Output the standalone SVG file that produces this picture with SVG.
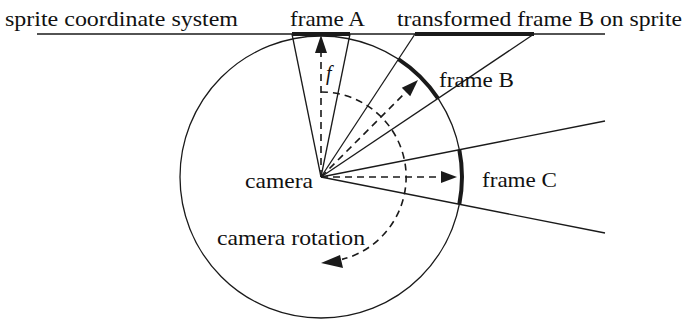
<svg xmlns="http://www.w3.org/2000/svg" width="687" height="320" viewBox="0 0 687 320">
<style>
.thin{fill:none;stroke:#1a1a1a;stroke-width:1.3}
.thick{fill:none;stroke:#1a1a1a;stroke-width:4}
.dash{fill:none;stroke:#1a1a1a;stroke-width:1.6;stroke-dasharray:7 5}
.head{fill:#1a1a1a;stroke:none}
.lbl{font-family:'Liberation Serif','Times New Roman','DejaVu Serif',serif;font-size:22px;fill:#111}
</style>
<rect width="687" height="320" fill="#fff"/>
<g id="sprite-plane">
<line class="thin" x1="37" y1="34" x2="605" y2="34"/>
<text class="lbl" x="5" y="26" textLength="233" lengthAdjust="spacingAndGlyphs">sprite coordinate system</text>
</g>
<g id="view-circle">
<circle class="thin" cx="321" cy="177" r="141"/>
</g>
<g id="frame-A">
<line class="thin" x1="321" y1="177" x2="292" y2="34"/>
<line class="thin" x1="321" y1="177" x2="350" y2="34"/>
<line class="thick" x1="292" y1="34" x2="350" y2="34"/>
<text class="lbl" x="290" y="26" textLength="75" lengthAdjust="spacingAndGlyphs">frame A</text>
<text class="lbl" x="326" y="80" style="font-style:italic;font-size:20px">f</text>
</g>
<g id="frame-B">
<line class="thin" x1="321" y1="177" x2="415" y2="34"/>
<line class="thin" x1="321" y1="177" x2="534" y2="34"/>
<path class="thick" d="M398.4 59.2 A141 141 0 0 1 438 98.4"/>
<line class="thick" x1="415" y1="34" x2="534" y2="34"/>
<text class="lbl" x="439" y="87" textLength="75" lengthAdjust="spacingAndGlyphs">frame B</text>
<text class="lbl" x="397" y="26" textLength="285" lengthAdjust="spacingAndGlyphs">transformed frame B on sprite</text>
</g>
<g id="frame-C">
<line class="thin" x1="321" y1="177" x2="605" y2="121"/>
<line class="thin" x1="321" y1="177" x2="605" y2="233"/>
<path class="thick" d="M459.3 149.7 A141 141 0 0 1 459.3 204.3"/>
<text class="lbl" x="482" y="187" textLength="75" lengthAdjust="spacingAndGlyphs">frame C</text>
</g>
<g id="camera">
<text class="lbl" x="245" y="188" textLength="68" lengthAdjust="spacingAndGlyphs">camera</text>
</g>
<g id="connectors">
<line class="dash" x1="321" y1="177" x2="321" y2="52"/>
<polygon class="head" points="321,35 315,53 327,53"/>
<line class="dash" x1="321" y1="177" x2="406" y2="92"/>
<polygon class="head" points="418,80 410.2,96.2 401.8,87.8"/>
<line class="dash" x1="321" y1="177" x2="441" y2="177"/>
<polygon class="head" points="457,177 441,171 441,183"/>
<path class="dash" d="M321 92 A85 85 0 0 1 342 259.4"/>
<polygon class="head" points="321,263 340,255 343,268"/>
</g>
<g id="rotation-label">
<text class="lbl" x="217" y="245" textLength="148" lengthAdjust="spacingAndGlyphs">camera rotation</text>
</g>
</svg>
